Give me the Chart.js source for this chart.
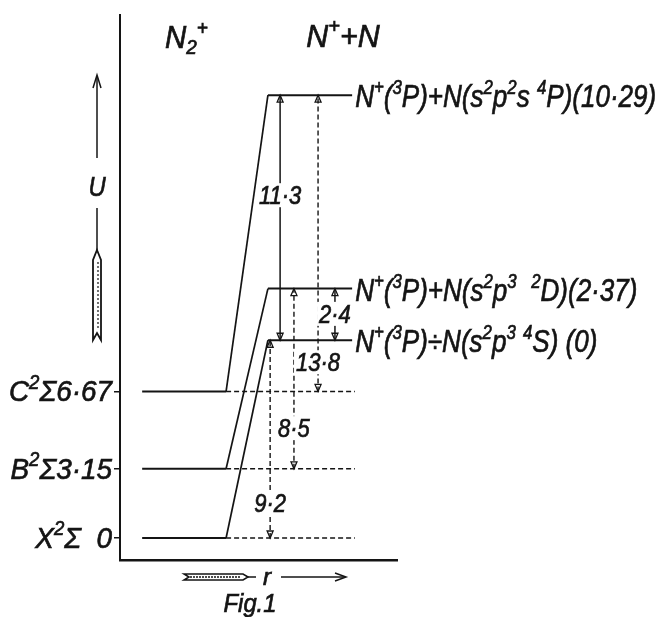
<!DOCTYPE html>
<html><head><meta charset="utf-8">
<script src="https://cdn.jsdelivr.net/npm/chart.js@4.4.1/dist/chart.umd.min.js"></script>
<style>html,body{margin:0;padding:0;background:#fff;}canvas{display:block}</style>
</head><body>
<canvas id="c" width="659" height="617"></canvas>
<script>
// ---------------- data ----------------
const lowerStates = ['X{^2}Σ', 'B{^2}Σ', 'C{^2}Σ'];
const lowerEnergies = [0, 3.15, 6.67];
const lowerEnergyLabels = ['  0', '3·15', '6·67'];
const limitEnergies = [9.0, 11.35, 20.15];          // heights of the N+ + N limits as drawn
const limitLabels = [
  'N{^+}({^3}P)÷N(s{^2}p{^3} {^4}S) (0)',
  'N{^+}({^3}P)+N(s{^2}p{^3}  {^2}D)(2·37)',
  'N{^+}({^3}P)+N(s{^2}p{^2}s {^4}P)(10·29)'
];
const correlatesTo = [0, 1, 2];                      // lower state i -> limit index
const arrowFrom = [0, 3.15, 6.67, 9.0, 9.0];
const arrowTo = [9.0, 11.35, 20.15, 20.15, 11.35];
const arrowLabels = ['9·2', '8·5', '13·8', '11·3', '2·4'];
const arrowDashed = [true, true, true, false, false];
const columnTitles = ['N{_2}{^+}', 'N{^+}+N'];

// ---------------- layout (r axis units 0..100) ----------------
const levelStartR = 8, levelEndR = 38.3, dashEndR = 84.8;
const limitStartR = 53.4, limitEndR = 83.8;
const arrowR = [54.2, 62.8, 71.5, 57.8, 77.6];
const arrowLabelY = [1.6, 5.0, 8.0, 15.6, 10.2];
const INK = '#141414';
const FONT = '"Liberation Sans", "DejaVu Sans", sans-serif';

// ---------------- datasets ----------------
const datasets = [];
lowerEnergies.forEach((e) => {
  datasets.push({data: [{x: levelStartR, y: e}, {x: levelEndR, y: e}], borderColor: INK, borderWidth: 2});
  datasets.push({data: [{x: levelEndR, y: e}, {x: dashEndR, y: e}], borderColor: INK, borderWidth: 1.6, borderDash: [5, 3]});
});
limitEnergies.forEach((e) => {
  datasets.push({data: [{x: limitStartR, y: e}, {x: limitEndR, y: e}], borderColor: INK, borderWidth: 2});
});
lowerEnergies.forEach((e, i) => {
  datasets.push({data: [{x: levelEndR, y: e}, {x: limitStartR, y: limitEnergies[correlatesTo[i]]}], borderColor: INK, borderWidth: 1.7});
});
arrowFrom.forEach((f, i) => {
  datasets.push({data: [{x: arrowR[i], y: f}, {x: arrowR[i], y: arrowTo[i]}], borderColor: INK,
    borderWidth: arrowDashed[i] ? 1.4 : 1.5, borderDash: arrowDashed[i] ? [5, 3] : []});
});
datasets.forEach(d => { d.showLine = true; d.pointRadius = 0; d.fill = false; d.tension = 0; });

// ---------------- rich text ----------------
const SUP = 0.66;
function parts(s) {
  const out = [];
  s.split(/(\{[\^_][^}]*\})/).forEach(p => {
    if (!p) return;
    if (p.startsWith('{^')) out.push({t: p.slice(2, -1), k: 'sup'});
    else if (p.startsWith('{_')) out.push({t: p.slice(2, -1), k: 'sub'});
    else out.push({t: p, k: 'n'});
  });
  return out;
}
function measureRich(ctx, s, f) {
  let w = 0;
  parts(s).forEach(p => { ctx.font = `italic ${p.k === 'n' ? f : Math.round(f * SUP)}px ${FONT}`; w += ctx.measureText(p.t).width; });
  return w;
}
function rich(ctx, s, x, y, f, align, sx) {
  const ps = parts(s);
  let w = 0;
  ps.forEach(p => { p.f = p.k === 'n' ? f : Math.round(f * SUP); ctx.font = `italic ${p.f}px ${FONT}`; p.w = ctx.measureText(p.t).width; w += p.w; });
  ctx.save();
  ctx.translate(x, y); ctx.scale(sx, 1);
  let cx = align === 'right' ? -w : align === 'center' ? -w / 2 : 0;
  const base = 0.36 * f;
  ctx.textBaseline = 'alphabetic'; ctx.textAlign = 'left';
  ctx.fillStyle = INK; ctx.strokeStyle = INK; ctx.lineWidth = 0.7; ctx.setLineDash([]);
  ps.forEach(p => {
    ctx.font = `italic ${p.f}px ${FONT}`;
    const dy = p.k === 'sup' ? base - 0.42 * f : p.k === 'sub' ? base + 0.2 * f : base;
    ctx.fillText(p.t, cx, dy);
    ctx.strokeText(p.t, cx, dy);
    cx += p.w;
  });
  ctx.restore();
  return w * sx;
}
function head(ctx, x, y, dir) { // dir -1: pointing up, +1: pointing down
  ctx.beginPath();
  ctx.moveTo(x - 3, y - dir * 7); ctx.lineTo(x, y); ctx.lineTo(x + 3, y - dir * 7); ctx.closePath();
  ctx.stroke();
}

const decor = {
  id: 'decor',
  afterDatasetsDraw(chart) {
    const ctx = chart.ctx, xs = chart.scales.x, ys = chart.scales.y, ca = chart.chartArea;
    ctx.save();
    ctx.strokeStyle = INK; ctx.fillStyle = INK; ctx.lineWidth = 1.3; ctx.setLineDash([]);
    // arrow heads
    arrowFrom.forEach((f, i) => {
      const px = xs.getPixelForValue(arrowR[i]);
      const y1 = ys.getPixelForValue(f), y2 = ys.getPixelForValue(arrowTo[i]);
      head(ctx, px, y1, 1); head(ctx, px, y2, -1);
    });
    // arrow labels on white
    arrowLabels.forEach((t, i) => {
      const px = xs.getPixelForValue(arrowR[i]), py = ys.getPixelForValue(arrowLabelY[i]);
      const f = 25, sx = 0.88;
      const w = measureRich(ctx, t, f) * sx;
      ctx.fillStyle = '#fff';
      ctx.fillRect(px - w / 2 - 2, py - 12, w + 4, 24);
      rich(ctx, t, px, py, f, 'center', sx);
    });
    // lower state labels at the energy axis
    lowerStates.forEach((s, i) => {
      rich(ctx, s + lowerEnergyLabels[i], ca.left - 8, ys.getPixelForValue(lowerEnergies[i]) - 1, 30, 'right', 0.93);
    });
    // limit labels
    limitLabels.forEach((s, i) => {
      rich(ctx, s, xs.getPixelForValue(limitEndR) + 3, ys.getPixelForValue(limitEnergies[i]) + 1, 31, 'left', 0.84);
    });
    // column titles
    rich(ctx, columnTitles[0], xs.getPixelForValue(24), ca.top + 22, 31, 'center', 0.95);
    rich(ctx, columnTitles[1], xs.getPixelForValue(80.5), ca.top + 20, 32, 'center', 0.95);

    // energy arrow (U)
    const ux = ca.left - 23;
    ctx.strokeStyle = INK; ctx.lineWidth = 1.5;
    ctx.beginPath(); ctx.moveTo(ux, 158); ctx.lineTo(ux, 76); ctx.stroke();
    ctx.beginPath(); ctx.moveTo(ux - 4, 88); ctx.lineTo(ux, 75); ctx.lineTo(ux + 4, 88); ctx.stroke();
    rich(ctx, 'U', ux, 186, 28, 'center', 0.85);
    ctx.beginPath(); ctx.moveTo(ux, 208); ctx.lineTo(ux, 252); ctx.stroke();
    ctx.lineWidth = 1.8;
    ctx.beginPath();
    ctx.moveTo(ux, 250); ctx.lineTo(ux + 4, 260); ctx.lineTo(ux + 4, 340); ctx.lineTo(ux, 333);
    ctx.lineTo(ux - 4, 340); ctx.lineTo(ux - 4, 260); ctx.closePath(); ctx.stroke();
    ctx.lineWidth = 1.2;
    ctx.setLineDash([2, 2]); ctx.beginPath(); ctx.moveTo(ux + 1, 262); ctx.lineTo(ux + 1, 330); ctx.stroke(); ctx.setLineDash([]);

    // r arrow
    const ry = ca.bottom + 17;
    ctx.lineWidth = 1.5;
    ctx.beginPath();
    ctx.moveTo(248, ry); ctx.lineTo(243, ry - 3); ctx.lineTo(184, ry - 3); ctx.lineTo(189, ry);
    ctx.lineTo(184, ry + 3); ctx.lineTo(243, ry + 3); ctx.closePath(); ctx.stroke();
    ctx.setLineDash([2, 1]); ctx.beginPath(); ctx.moveTo(190, ry); ctx.lineTo(240, ry); ctx.stroke(); ctx.setLineDash([]);
    ctx.beginPath(); ctx.moveTo(248, ry); ctx.lineTo(256, ry); ctx.stroke();
    rich(ctx, 'r', 267, ry - 1, 24, 'center', 1);
    ctx.beginPath(); ctx.moveTo(281, ry); ctx.lineTo(345, ry); ctx.stroke();
    ctx.beginPath(); ctx.moveTo(335, ry - 4); ctx.lineTo(346, ry); ctx.lineTo(335, ry + 4); ctx.stroke();
    rich(ctx, 'Fig.1', 250, ca.bottom + 43, 25, 'center', 0.95);
    ctx.restore();
  }
};

new Chart(document.getElementById('c'), {
  type: 'scatter',
  data: {datasets},
  options: {
    responsive: false, animation: false, devicePixelRatio: 1,
    layout: {padding: {left: 120, right: 262, top: 15, bottom: 57}},
    plugins: {legend: {display: false}, tooltip: {enabled: false}},
    scales: {
      x: {type: 'linear', min: 0, max: 100, grid: {display: false}, ticks: {display: false},
          border: {display: true, color: INK, width: 2.5}, afterFit(s) { s.height = 0; }},
      y: {type: 'linear', min: -1, max: 23.8,
          grid: {display: true, drawOnChartArea: false, drawTicks: true, tickLength: 6, color: INK, lineWidth: 1.5},
          ticks: {display: false}, border: {display: true, color: INK, width: 2},
          afterBuildTicks(s) { s.ticks = lowerEnergies.map(v => ({value: v})); },
          afterFit(s) { s.width = 0; }}
    }
  },
  plugins: [decor]
});
</script>
</body></html>
